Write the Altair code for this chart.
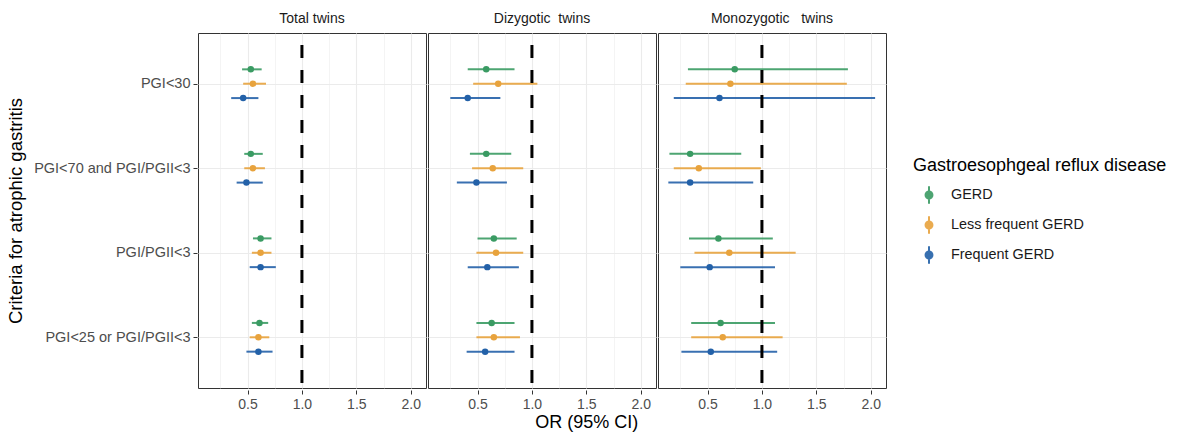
import altair as alt
import pandas as pd

# Odds ratios (95% CI) for atrophic gastritis by GERD frequency
panels = ["Total twins", "Dizygotic\u00a0\u00a0twins", "Monozygotic\u00a0\u00a0\u00a0twins"]
criteria = ["PGI<30", "PGI<70 and PGI/PGII<3", "PGI/PGII<3", "PGI<25 or PGI/PGII<3"]
groups = ["GERD", "Less frequent GERD", "Frequent GERD"]
colors = ["#3A9B63", "#E8A33D", "#2361A8"]

# [panel][group] -> one value per criterion
or_est = [
    [[0.53, 0.53, 0.62, 0.61], [0.55, 0.55, 0.62, 0.60], [0.46, 0.49, 0.62, 0.60]],
    [[0.58, 0.58, 0.65, 0.63], [0.69, 0.64, 0.67, 0.65], [0.41, 0.49, 0.59, 0.57]],
    [[0.75, 0.34, 0.60, 0.62], [0.71, 0.42, 0.70, 0.64], [0.61, 0.34, 0.52, 0.53]],
]
ci_low = [
    [[0.45, 0.47, 0.55, 0.54], [0.46, 0.47, 0.54, 0.52], [0.35, 0.40, 0.52, 0.49]],
    [[0.41, 0.43, 0.50, 0.49], [0.46, 0.45, 0.49, 0.49], [0.25, 0.31, 0.41, 0.40]],
    [[0.32, 0.15, 0.33, 0.35], [0.30, 0.19, 0.38, 0.35], [0.19, 0.14, 0.25, 0.26]],
]
ci_high = [
    [[0.63, 0.64, 0.72, 0.69], [0.67, 0.66, 0.72, 0.70], [0.60, 0.64, 0.76, 0.73]],
    [[0.84, 0.81, 0.86, 0.84], [1.05, 0.92, 0.92, 0.89], [0.71, 0.77, 0.88, 0.84]],
    [[1.79, 0.81, 1.10, 1.12], [1.78, 0.99, 1.31, 1.19], [2.04, 0.92, 1.12, 1.14]],
]

dodge = 0.17  # vertical spacing between the three GERD groups in a row

rows = []
for p, panel in enumerate(panels):
    for g, group in enumerate(groups):
        for c, crit in enumerate(criteria):
            rows.append({
                "panel": panel,
                "group": group,
                "criterion": crit,
                "pos": c + (g - 1) * dodge,
                "or": or_est[p][g][c],
                "lo": ci_low[p][g][c],
                "hi": ci_high[p][g][c],
            })
df = pd.DataFrame(rows)

x_ticks = [0.25, 0.5, 0.75, 1.0, 1.25, 1.5, 1.75, 2.0]
major = "(datum.value * 4) % 2 == 0"

x_scale = alt.Scale(domain=[0.045, 2.14], nice=False, zero=False)
x_axis = alt.Axis(
    values=x_ticks,
    title=None,
    labelExpr=f"{major} ? format(datum.value, '.1f') : ''",
    gridColor="#EBEBEB",
    gridWidth={"condition": {"test": major, "value": 1.1}, "value": 0.55},
    tickOpacity={"condition": {"test": major, "value": 1}, "value": 0},
    tickColor="#333333",
    tickSize=4,
    domain=False,
    labelColor="#4D4D4D",
    labelFontSize=14,
    labelPadding=3,
)

crit_lookup = "[" + ", ".join(f"'{c}'" for c in criteria) + "]"
y_axis = alt.Axis(
    values=list(range(len(criteria))),
    labelExpr=f"{crit_lookup}[datum.value]",
    title="Criteria for atrophic gastritis",
    titleFontSize=18.5,
    titleFontWeight="normal",
    titleColor="#000000",
    titlePadding=8,
    gridColor="#EBEBEB",
    gridWidth=1.1,
    tickColor="#333333",
    tickSize=4,
    domain=False,
    labelColor="#4D4D4D",
    labelFontSize=14.5,
    labelPadding=3,
)
y_scale = alt.Scale(domain=[-0.6, len(criteria) - 0.4], reverse=True, nice=False, zero=False)

color = alt.Color(
    "group:N",
    scale=alt.Scale(domain=groups, range=colors),
    legend=alt.Legend(
        title="Gastroesophgeal reflux disease",
        symbolType="M0,-1L0,1M-0.4,0a0.4,0.4 0 1,0 0.8,0a0.4,0.4 0 1,0 -0.8,0",
        symbolSize=300,
        symbolStrokeWidth=2,
        symbolOffset=6,
        orient="none",
        legendX=715,
        legendY=124,
        rowPadding=4,
        titlePadding=10,
        labelOffset=12,
    ),
)

base = alt.Chart().encode(
    y=alt.Y("pos:Q", scale=y_scale, axis=y_axis),
    color=color,
)

bars = base.mark_rule(strokeWidth=2, opacity=0.9).encode(
    x=alt.X("lo:Q", scale=x_scale, axis=x_axis),
    x2="hi:Q",
)

points = base.mark_point(filled=True, size=42, opacity=1).encode(
    x=alt.X("or:Q", scale=x_scale, axis=x_axis),
)

ref_line = alt.Chart().mark_rule(
    color="black", strokeWidth=3, strokeDash=[13, 12], strokeDashOffset=13
).encode(
    x=alt.X(datum=1.0, scale=x_scale, axis=x_axis),
).transform_filter(
    f"datum.group == '{groups[0]}' && datum.criterion == '{criteria[0]}'"
)

chart = alt.layer(bars, points, ref_line, data=df).properties(
    width=228, height=355
).facet(
    column=alt.Column(
        "panel:N",
        sort=panels,
        header=alt.Header(title=None, labelFontSize=14, labelColor="#1A1A1A", labelPadding=5),
    ),
    spacing=0,
).properties(
    title=alt.TitleParams(
        "OR (95% CI)", orient="bottom", anchor="middle",
        fontSize=18, fontWeight="normal", color="#000000", offset=3,
    ),
    padding={"left": 6, "top": 12, "right": 5, "bottom": 5},
).configure(
    font="Liberation Sans",
).configure_view(
    stroke="#333333", strokeWidth=1,
).configure_legend(
    titleFontSize=18, titleFontWeight="normal", titleColor="#000000", titleLimit=400,
    labelFontSize=14.4, labelColor="#1A1A1A", labelLimit=300,
)

chart.save("out.html", embed_options={"renderer": "svg", "actions": False})
